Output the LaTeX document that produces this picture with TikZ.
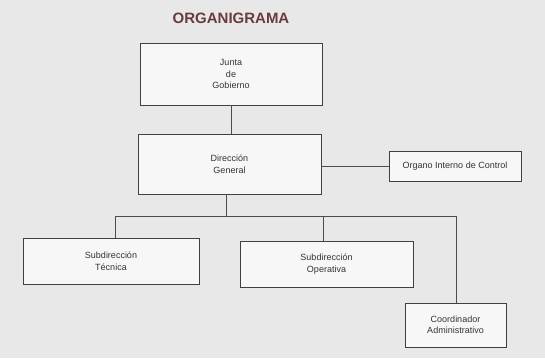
\documentclass[tikz,border=0pt]{standalone}
\usepackage{fontspec}
\setmainfont{Liberation Sans}
\begin{document}
\begin{tikzpicture}[x=1pt,y=-1pt,
  box/.style={draw=black!75,line width=0.6pt,fill=black!3,align=center,font=\fontsize{9}{11.5}\selectfont,text=black!80,inner sep=0pt},
  conn/.style={draw=black!70,line width=0.6pt}]
\useasboundingbox[fill=black!9] (0,0) rectangle (545,358);
\node[font=\bfseries\fontsize{15}{17}\selectfont,text={rgb,255:red,105;green,60;blue,60}] (title) at (231,18) {ORGANIGRAMA};
\node[box,minimum width=182pt,minimum height=62pt] (junta) at (231,74) {Junta\\de\\Gobierno};
\node[box,minimum width=183pt,minimum height=60pt] (dg) at (229.5,164) {Dirección\\General};
\node[box,minimum width=132pt,minimum height=30pt] (oic) at (455,166) {Organo Interno de Control};
\node[box,minimum width=176pt,minimum height=46pt] (st) at (111,261) {Subdirección\\Técnica};
\node[box,minimum width=173pt,minimum height=46pt] (so) at (326.5,264) {Subdirección\\Operativa};
\node[box,minimum width=101pt,minimum height=44pt] (ca) at (455.5,325) {Coordinador\\Administrativo};
\coordinate (bus) at (226,216);
\draw[conn] (junta.south) -- (dg.north -| junta.south);
\draw[conn] (dg.east |- oic.west) -- (oic.west);
\draw[conn] (dg.south -| bus) -- (bus);
\draw[conn] (st.north -| 115,0) -- (115,216) -- (456,216) -- (ca.north -| 456,0);
\draw[conn] (323,216) -- (so.north -| 323,0);
\end{tikzpicture}
\end{document}
